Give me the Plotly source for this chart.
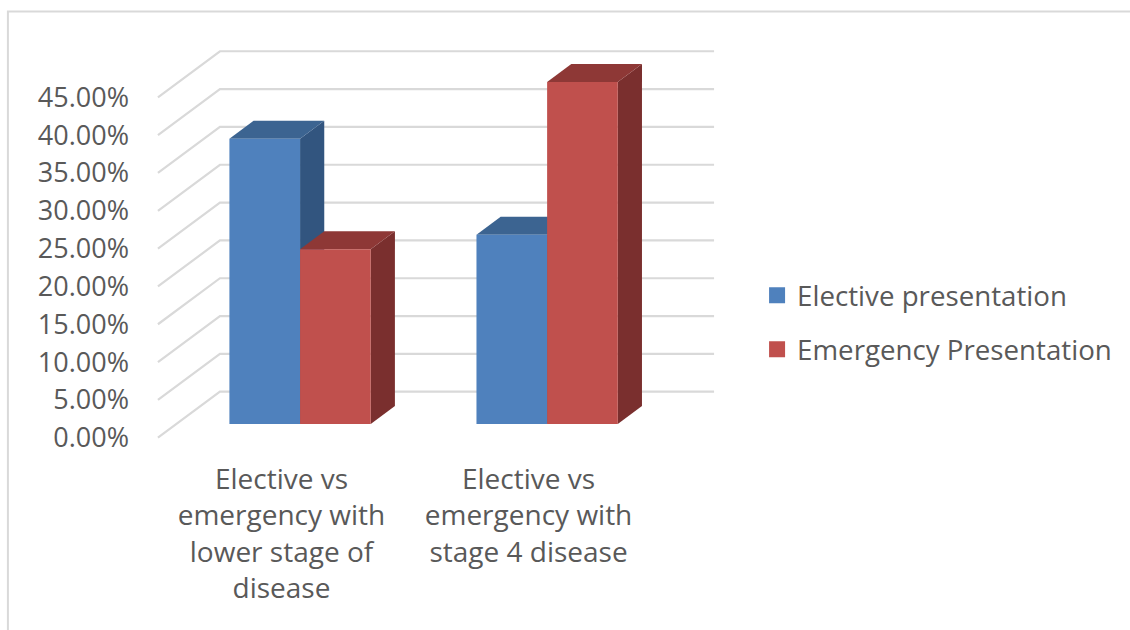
import plotly.graph_objects as go

# Chart data
categories = [
    "Elective vs<br>emergency with<br>lower stage of<br>disease",
    "Elective vs<br>emergency with<br>stage 4 disease",
]
elective = [37.7, 25.0]
emergency = [23.1, 45.2]
series_names = ["Elective presentation", "Emergency Presentation"]
tick_values = [0, 5, 10, 15, 20, 25, 30, 35, 40, 45]
tick_labels = [f"{v:.2f}%" for v in tick_values]

# Oblique 3D projection: the floor depth in axis units
DX = 0.251          # horizontal depth shift (category units)
DY = 6.083          # vertical depth shift (percent units)
F0, F1 = 0.30, 0.69  # front / back depth fraction of each bar
BW = 0.286          # bar width (category units)

front_cols = ["#4F81BD", "#C0504D"]
top_cols = ["#3C6491", "#8E3836"]
side_cols = ["#32557F", "#7A2F2E"]
grid_col = "#D9D9D9"
text_col = "#595959"
FONT = "Open Sans"

fig = go.Figure()
shapes = []

# Back wall gridlines plus diagonal side-wall lines
for v in tick_values:
    shapes.append(dict(
        type="path", xref="x", yref="y", layer="below",
        path=f"M {-0.5} {v} L {-0.5 + DX} {v + DY} L {1.5 + DX} {v + DY}",
        line=dict(color=grid_col, width=2.2),
    ))

# Side and top faces of each bar (drawn below the front faces)
ddx, ddy = (F1 - F0) * DX, (F1 - F0) * DY
for c in range(len(categories)):
    for s, vals in enumerate([elective, emergency]):
        x0 = c - BW + s * BW + F0 * DX
        x1 = x0 + BW
        y0 = F0 * DY
        y1 = y0 + vals[c]
        # right side face
        shapes.append(dict(
            type="path", xref="x", yref="y", layer="below",
            path=f"M {x1} {y0} L {x1} {y1} L {x1 + ddx} {y1 + ddy} L {x1 + ddx} {y0 + ddy} Z",
            fillcolor=side_cols[s], line=dict(width=0),
        ))
        # top face
        shapes.append(dict(
            type="path", xref="x", yref="y", layer="below",
            path=f"M {x0} {y1} L {x1} {y1} L {x1 + ddx} {y1 + ddy} L {x0 + ddx} {y1 + ddy} Z",
            fillcolor=top_cols[s], line=dict(width=0),
        ))

# Front faces of the bars
for s, vals in enumerate([elective, emergency]):
    fig.add_trace(go.Bar(
        x=[0, 1], y=vals, base=F0 * DY, width=BW,
        offset=-BW + s * BW + F0 * DX,
        marker=dict(color=front_cols[s], line=dict(width=0)),
        name=series_names[s], showlegend=False, hoverinfo="skip",
    ))

# Legend swatches
for s in range(2):
    fig.add_trace(go.Scatter(
        x=[None], y=[None], mode="markers",
        marker=dict(symbol="square", size=18, color=front_cols[s], line=dict(width=0)),
        name=series_names[s], legendgroup=f"g{s}",
    ))

# Pixel mapping of the plot area
X_RANGE = [-0.52, 1.5 + DX + 0.02]
Y_RANGE = [-0.3, 45 + DY + 0.3]
px_per_x = 247.0
px_per_y = 7.562
left = 158 + (X_RANGE[0] + 0.5) * px_per_x
right = 158 + (X_RANGE[1] + 0.5) * px_per_x
top = 438 - Y_RANGE[1] * px_per_y
bottom = 438 - Y_RANGE[0] * px_per_y
W, H = 1130, 630


def paper_x(px):
    return (px - left) / (right - left)


def paper_y(py):
    return (bottom - py) / (bottom - top)


# Outer chart border (left and top edges)
shapes.append(dict(
    type="path", xref="paper", yref="paper", layer="below",
    path=f"M {paper_x(8)} {paper_y(632)} L {paper_x(8)} {paper_y(12)} L {paper_x(1132)} {paper_y(12)}",
    line=dict(color="#D9D9D9", width=2),
))

fig.update_layout(
    width=W, height=H,
    margin=dict(l=left, r=W - right, t=top, b=H - bottom, pad=0),
    paper_bgcolor="white", plot_bgcolor="white",
    barmode="overlay",
    shapes=shapes,
    font=dict(family=FONT, color=text_col, size=27),
    xaxis=dict(
        range=X_RANGE, tickmode="array", tickvals=[0, 1], ticktext=categories,
        showgrid=False, zeroline=False, showline=False, ticks="",
        tickfont=dict(size=28, family=FONT, color=text_col),
        ticklabelstandoff=20, fixedrange=True,
    ),
    yaxis=dict(
        range=Y_RANGE, tickmode="array", tickvals=tick_values, ticktext=tick_labels,
        showgrid=False, zeroline=False, showline=False, ticks="",
        tickfont=dict(size=27, family=FONT, color=text_col),
        ticklabelstandoff=23, fixedrange=True,
    ),
    legend=dict(
        x=paper_x(757), xanchor="left",
        y=paper_y(323), yanchor="middle",
        font=dict(size=27.7, family=FONT, color=text_col),
        tracegroupgap=15, bgcolor="rgba(0,0,0,0)",
    ),
    showlegend=True,
)

fig.write_html("out.html")
